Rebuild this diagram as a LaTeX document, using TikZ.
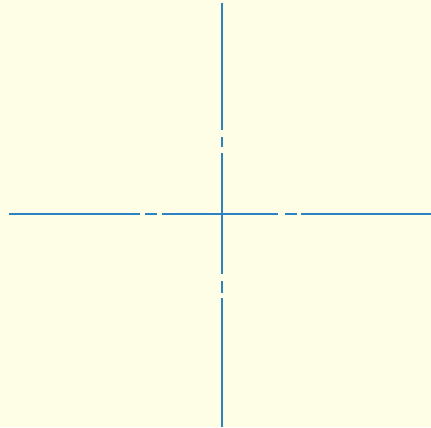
\documentclass[tikz,border=0pt]{standalone}
\usepackage{xcolor}
\usetikzlibrary{positioning}
\definecolor{paperbg}{HTML}{FEFEE6}
\definecolor{axisblue}{HTML}{2C82C2}

\begin{document}
\begin{tikzpicture}[x=0.5pt, y=-0.5pt,
    centreline/.style={
        draw=axisblue,
        line width=1pt
    }
]

% Background sheet
\fill[paperbg] (0,0) rectangle (431,427);
\useasboundingbox (0,0) rectangle (431,427);

% Centre of the cross
\coordinate (C) at (221.5,214);

% Horizontal centre line (long -- short -- long)
\foreach \a/\b in {9/140, 145/157, 162/278, 285/297, 301/431}
    \draw[centreline] (\a,214) -- (\b,214);

% Vertical centre line (long -- short -- long)
\foreach \a/\b in {3/130, 137/147, 153/274, 281/293, 298/427}
    \draw[centreline] (221.5,\a) -- (221.5,\b);

\end{tikzpicture}
\end{document}
